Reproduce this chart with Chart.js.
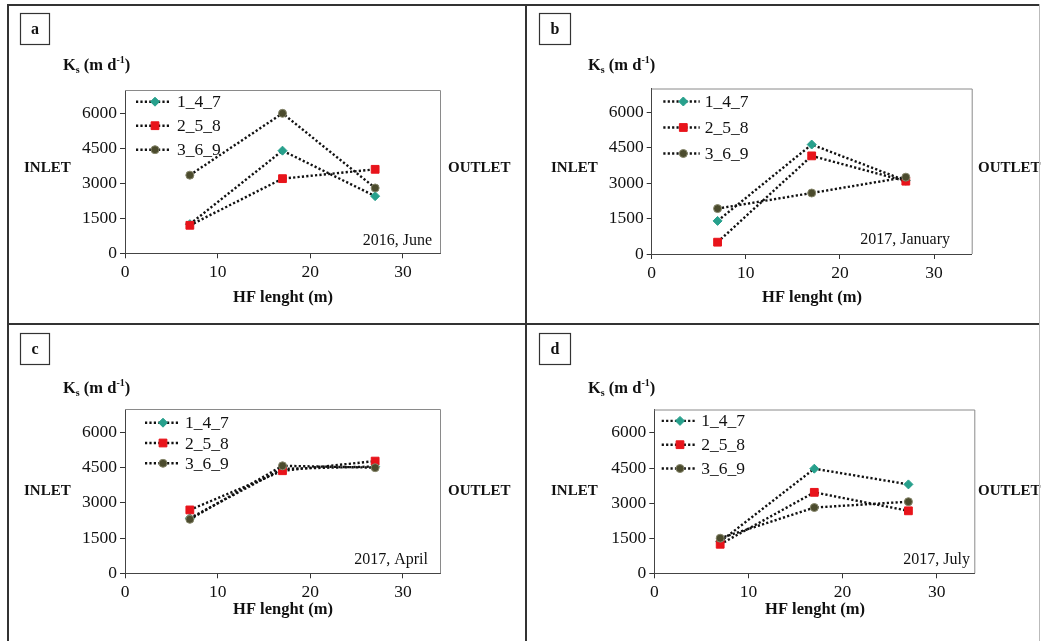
<!DOCTYPE html>
<html>
<head>
<meta charset="utf-8">
<script src="https://cdn.jsdelivr.net/npm/chart.js@4.4.1/dist/chart.umd.min.js"></script>
<style>
body { margin: 0; background: #fff; }
#wrap { position: relative; width: 1041px; height: 641px; overflow: hidden; background: #fff; }
.cell { position: absolute; }
.rule { position: absolute; background: #333; }
</style>
</head>
<body>
<div id="wrap">
  <div class="cell" style="left:0;top:0"><canvas id="chart0" width="526" height="323"></canvas></div>
  <div class="cell" style="left:526px;top:0"><canvas id="chart1" width="515" height="323"></canvas></div>
  <div class="cell" style="left:0;top:323px"><canvas id="chart2" width="526" height="318"></canvas></div>
  <div class="cell" style="left:526px;top:323px"><canvas id="chart3" width="515" height="318"></canvas></div>
  <div class="rule" style="left:7px;top:4px;width:2px;height:637px"></div>
  <div class="rule" style="left:7px;top:4px;width:1033px;height:2px"></div>
  <div class="rule" style="left:525px;top:4px;width:2px;height:637px"></div>
  <div class="rule" style="left:7px;top:323px;width:1033px;height:2px"></div>
  <div class="rule" style="left:1039px;top:4px;width:1px;height:637px;background:#bbb"></div>
</div>
<script>
// data
var hfLength = [7, 17, 27];
var seriesNames = ['1_4_7', '2_5_8', '3_6_9'];
var xTickValues = [0, 10, 20, 30];
var yTickValues = [0, 1500, 3000, 4500, 6000];
var panelLetters = ['a', 'b', 'c', 'd'];
var panelDates = ['2016, June', '2017, January', '2017, April', '2017, July'];
// one row per panel (a, b, c, d)
var ks147 = [[1250, 4400, 2450], [1400, 4630, 3100], [2350, 4450, 4550], [1350, 4470, 3800]];
var ks258 = [[1200, 3200, 3600], [500, 4150, 3080], [2700, 4370, 4780], [1240, 3460, 2670]];
var ks369 = [[3350, 6000, 2800], [1920, 2580, 3250], [2300, 4580, 4500], [1500, 2810, 3060]];

var serif = '"Liberation Serif", "Times New Roman", serif';

var seriesStyle = [
  { shape: 'rectRot', color: '#27a08c', edge: '#27a08c', r: 4.5, order: 2 },
  { shape: 'rect', color: '#e8141b', edge: '#e8141b', r: 5.5, order: 1 },
  { shape: 'circle', color: '#4b4b2d', edge: '#85856a', r: 4, order: 0 }
];

// page layout of each panel (canvas coords)
var layout = [
  { area: [125, 90, 440, 253.3], box: [20, 13, 29, 31], ks: [63, 70], inlet: [24, 168], outlet: [448, 168], xt: [283, 298], note: [432, 241], leg: [11, 46, 30, 52, 11.7, 24] },
  { area: [125.7, 88.5, 445.7, 254], box: [13, 13, 31, 31], ks: [62, 70], inlet: [25, 168], outlet: [452, 168], xt: [286, 298], note: [424, 240], leg: [11.6, 48, 31.6, 53, 13, 26] },
  { area: [125, 86, 440, 250.3], box: [20, 10, 29, 31], ks: [63, 70], inlet: [24, 168], outlet: [448, 168], xt: [283, 287], note: [428, 237], leg: [20, 55, 38, 60, 13.7, 20.3] },
  { area: [128.3, 86.5, 448.3, 250.3], box: [13, 10, 31, 31], ks: [62, 70], inlet: [25, 168], outlet: [452, 168], xt: [289, 287], note: [444, 237], leg: [7.4, 42, 25.7, 47, 11.4, 23.8] }
];

var Y_AXIS_W = 60, X_AXIS_H = 30;

function drawKs(ctx, x, base) {
  ctx.fillStyle = '#111';
  ctx.textAlign = 'left';
  ctx.textBaseline = 'alphabetic';
  var big = 'bold 16.5px ' + serif, small = 'bold 10px ' + serif;
  ctx.font = big; ctx.fillText('K', x, base); x += ctx.measureText('K').width;
  ctx.font = small; ctx.fillText('s', x, base + 3); x += ctx.measureText('s').width;
  ctx.font = big; ctx.fillText(' (m d', x, base); x += ctx.measureText(' (m d').width;
  ctx.font = small; ctx.fillText('-1', x, base - 7); x += ctx.measureText('-1').width;
  ctx.font = big; ctx.fillText(')', x, base);
}

function drawMarker(ctx, st, x, y) {
  Chart.helpers.drawPoint(ctx, { pointStyle: st.shape, radius: st.r, borderWidth: 1 }, x, y);
}

var decoPlugin = {
  id: 'deco',
  afterDraw: function (chart, args, opts) {
    var ctx = chart.ctx, a = chart.chartArea, L = opts.lay;
    ctx.save();
    // top and right frame of the plot box
    ctx.strokeStyle = '#8a8a8a';
    ctx.lineWidth = 1;
    ctx.beginPath();
    ctx.moveTo(a.left, a.top + 0.5);
    ctx.lineTo(a.right + 0.5, a.top + 0.5);
    ctx.lineTo(a.right + 0.5, a.bottom);
    ctx.stroke();

    // panel letter box
    ctx.strokeStyle = '#333';
    ctx.lineWidth = 1.2;
    ctx.strokeRect(L.box[0] + 0.5, L.box[1] + 0.5, L.box[2], L.box[3]);
    ctx.fillStyle = '#111';
    ctx.font = 'bold 16px ' + serif;
    ctx.textAlign = 'center';
    ctx.textBaseline = 'middle';
    ctx.fillText(opts.letter, L.box[0] + L.box[2] / 2 + 0.5, L.box[1] + L.box[3] / 2 + 1);

    drawKs(ctx, L.ks[0], L.ks[1]);

    ctx.fillStyle = '#111';
    ctx.font = 'bold 15px ' + serif;
    ctx.textAlign = 'left';
    ctx.textBaseline = 'middle';
    ctx.fillText('INLET', L.inlet[0], L.inlet[1]);
    ctx.fillText('OUTLET', L.outlet[0], L.outlet[1]);

    ctx.font = 'bold 16.5px ' + serif;
    ctx.textAlign = 'center';
    ctx.fillText('HF lenght (m)', L.xt[0], L.xt[1]);

    ctx.font = '16px ' + serif;
    ctx.textAlign = 'right';
    ctx.fillText(opts.note, L.note[0], L.note[1]);

    // legend
    var g = L.leg;
    chart.data.datasets.forEach(function (ds, i) {
      var y = a.top + g[4] + i * g[5];
      var st = seriesStyle[i];
      ctx.strokeStyle = '#111';
      ctx.lineWidth = 2.4;
      ctx.setLineDash([2.2, 2.2]);
      ctx.beginPath();
      ctx.moveTo(a.left + g[0], y);
      ctx.lineTo(a.left + g[1], y);
      ctx.stroke();
      ctx.setLineDash([]);
      ctx.fillStyle = st.color;
      ctx.strokeStyle = st.edge;
      ctx.lineWidth = 1;
      drawMarker(ctx, st, a.left + g[2], y);
      ctx.fillStyle = '#111';
      ctx.font = '17.5px ' + serif;
      ctx.textAlign = 'left';
      ctx.textBaseline = 'middle';
      ctx.fillText(ds.label, a.left + g[3], y + 1);
    });
    ctx.restore();
  }
};

function plainTick(value) { return String(value); }

function makePanel(p) {
  var L = layout[p];
  var canvas = document.getElementById('chart' + p);
  var W = canvas.width, H = canvas.height;
  var seriesVals = [ks147[p], ks258[p], ks369[p]];
  var datasets = seriesVals.map(function (vals, i) {
    var st = seriesStyle[i];
    return {
      label: seriesNames[i],
      data: hfLength.map(function (x, k) { return { x: x, y: vals[k] }; }),
      borderColor: '#111',
      borderWidth: 2.4,
      borderDash: [2.2, 2.2],
      tension: 0,
      pointStyle: st.shape,
      pointRadius: st.r,
      pointBackgroundColor: st.color,
      pointBorderColor: st.edge,
      pointBorderWidth: 1,
      order: st.order,
      clip: false
    };
  });
  return new Chart(canvas, {
    type: 'line',
    data: { datasets: datasets },
    plugins: [decoPlugin],
    options: {
      responsive: false,
      animation: false,
      devicePixelRatio: 1,
      layout: {
        padding: {
          left: L.area[0] - Y_AXIS_W,
          top: L.area[1],
          right: W - L.area[2],
          bottom: H - L.area[3] - X_AXIS_H
        }
      },
      plugins: {
        legend: { display: false },
        tooltip: { enabled: false },
        deco: { lay: L, letter: panelLetters[p], note: panelDates[p] }
      },
      scales: {
        x: {
          type: 'linear',
          min: 0,
          max: 34,
          bounds: 'data',
          afterBuildTicks: function (s) { s.ticks = xTickValues.map(function (v) { return { value: v }; }); },
          afterFit: function (s) { s.height = X_AXIS_H; },
          grid: { drawOnChartArea: false, drawTicks: true, tickLength: 5, color: '#333' },
          border: { display: true, color: '#444', width: 1 },
          ticks: { color: '#111', padding: 4, maxRotation: 0, callback: plainTick, font: { family: serif, size: 17.5 } }
        },
        y: {
          type: 'linear',
          min: 0,
          max: 7000,
          bounds: 'data',
          afterBuildTicks: function (s) { s.ticks = yTickValues.map(function (v) { return { value: v }; }); },
          afterFit: function (s) { s.width = Y_AXIS_W; },
          grid: { drawOnChartArea: false, drawTicks: true, tickLength: 5, color: '#333' },
          border: { display: true, color: '#444', width: 1 },
          ticks: { color: '#111', padding: 3, callback: plainTick, font: { family: serif, size: 17.5 } }
        }
      }
    }
  });
}

for (var p = 0; p < 4; p++) makePanel(p);
</script>
</body>
</html>
